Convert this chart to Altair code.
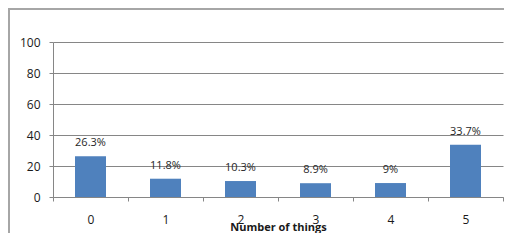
import altair as alt
import pandas as pd

categories = ["0", "1", "2", "3", "4", "5"]
values = [26.3, 11.8, 10.3, 8.9, 9.0, 33.7]
labels = ["26.3%", "11.8%", "10.3%", "8.9%", "9%", "33.7%"]
y_ticks = [0, 20, 40, 60, 80, 100]

df = pd.DataFrame({"cat": categories, "val": values, "lab": labels})

FONT = "Open Sans"
GRID = "#868686"

x = alt.X(
    "cat:N",
    sort=categories,
    scale=alt.Scale(paddingInner=0, paddingOuter=0),
    axis=alt.Axis(
        title="Number of things",
        labelAngle=0,
        tickBand="extent",
        tickSize=4,
        tickColor=GRID,
        domainColor=GRID,
        labelPadding=13,
        labelFont=FONT,
        labelFontSize=12,
        labelColor="#1a1a1a",
        titleFont=FONT,
        titleFontSize=11,
        titleFontWeight="bold",
        titleColor="#1a1a1a",
        titleY=30,
        titleBaseline="middle",
        grid=False,
    ),
)
y = alt.Y(
    "val:Q",
    scale=alt.Scale(domain=[0, 100]),
    axis=alt.Axis(
        title=None,
        values=y_ticks,
        tickSize=4,
        tickColor=GRID,
        domainColor=GRID,
        gridColor=GRID,
        labelPadding=9,
        labelFont=FONT,
        labelFontSize=12,
        labelColor="#1a1a1a",
    ),
)

bars = alt.Chart(df).mark_bar(width=31, color="#4F81BD").encode(x=x, y=y)
text = alt.Chart(df).mark_text(
    dy=-13, baseline="middle", font=FONT, fontSize=11, color="#262626"
).encode(x=x, y=y, text="lab:N")

one = alt.Data(values=[{}])
left_border = alt.Chart(one).mark_rule(color="#A6A6A6", strokeWidth=2).encode(
    x=alt.value(-44), y=alt.value(-34), y2=alt.value(200)
)
top_border = alt.Chart(one).mark_rule(color="#A6A6A6", strokeWidth=2).encode(
    x=alt.value(-45), x2=alt.value(460), y=alt.value(-33)
)

chart = alt.layer(bars, text, left_border, top_border).properties(
    width=450,
    height=155,
    autosize=alt.AutoSizeParams(type="none"),
    padding={"left": 45, "top": 34, "right": 1, "bottom": 36},
    background="white",
).configure_view(stroke=None)

chart.save("out.html", embed_options={"renderer": "svg", "actions": False})
